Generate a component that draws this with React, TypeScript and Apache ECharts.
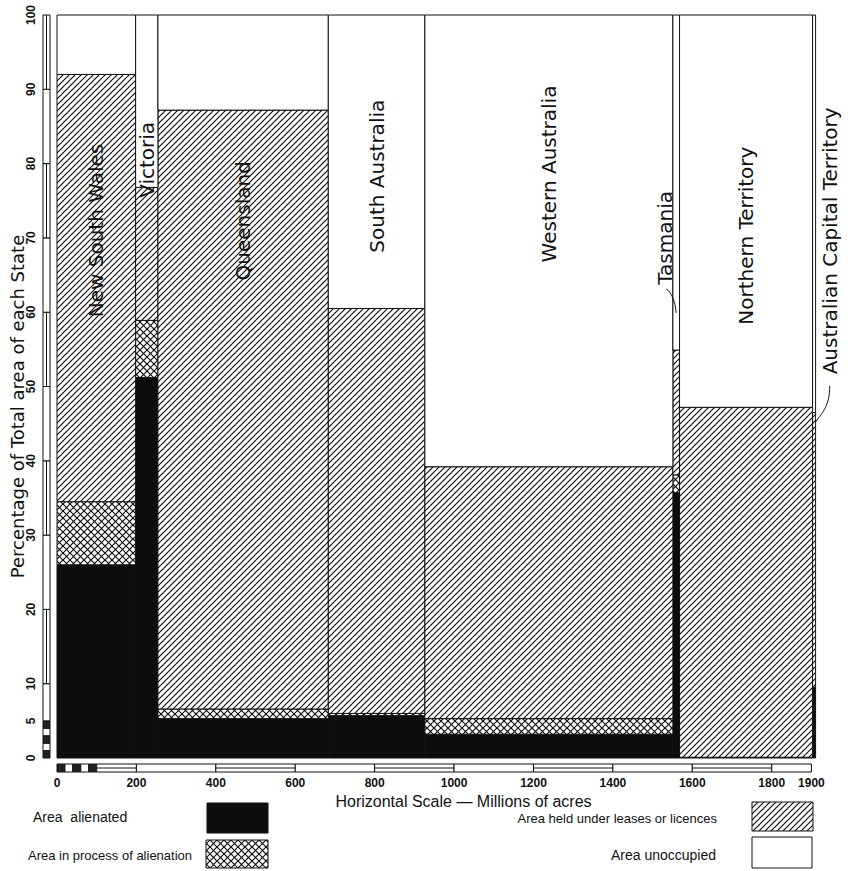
import React, { useEffect, useRef } from "react";
import * as echarts from "echarts";

// ---- data ----
const states = [
  "New South Wales",
  "Victoria",
  "Queensland",
  "South Australia",
  "Western Australia",
  "Tasmania",
  "Northern Territory",
  "Australian Capital Territory",
];
// total area of each State, millions of acres (column widths)
const areas = [198.0, 56.2, 429.1, 243.2, 624.6, 16.8, 335.1, 0.6];
// percentage of each State's total area
const alienated = [26.0, 51.2, 5.3, 5.7, 3.2, 35.7, 0.1, 9.5];
const inProcess = [8.5, 7.7, 1.3, 0.3, 2.1, 2.4, 0.0, 0.0];
const leases = [57.5, 17.9, 80.6, 54.5, 33.9, 16.8, 47.1, 37.0];
const unoccupied = [8.0, 23.2, 12.8, 39.5, 60.8, 45.1, 52.8, 53.5];

const categoryNames = [
  "Area  alienated",
  "Area in process of alienation",
  "Area held under leases or licences",
  "Area unoccupied",
];

const xTicks = [0, 200, 400, 600, 800, 1000, 1200, 1400, 1600, 1800, 1900];
const yTicks = [0, 5, 10, 20, 30, 40, 50, 60, 70, 80, 90, 100];
const xRulerMarks = [0, 20, 40, 60, 80, 100, 200, 400, 600, 800, 1000, 1200, 1400, 1600, 1800, 1900];
const yRulerMarks = [0, 1, 2, 3, 4, 5, 10, 20, 30, 40, 50, 60, 70, 80, 90, 100];

// ---- layout (label placement, not data) ----
const LABEL_Y = [71.0, 80.5, 72.3, 78.3, 78.6, 70.0, 70.3, 69.6];
const LABEL_DX = [0, 0, 0, 0, 0, -11, 0, 17];
const INK = "#111111";

function makeHatch(size: number, cross: boolean) {
  const c = document.createElement("canvas");
  c.width = size;
  c.height = size;
  const ctx = c.getContext("2d")!;
  ctx.fillStyle = "#ffffff";
  ctx.fillRect(0, 0, size, size);
  ctx.strokeStyle = INK;
  ctx.lineWidth = 1.2;
  const line = (x1: number, y1: number, x2: number, y2: number) => {
    ctx.beginPath();
    ctx.moveTo(x1, y1);
    ctx.lineTo(x2, y2);
    ctx.stroke();
  };
  line(-1, size + 1, size + 1, -1);
  line(-1, 1, 1, -1);
  line(size - 1, size + 1, size + 1, size - 1);
  if (cross) {
    line(-1, -1, size + 1, size + 1);
    line(-1, size - 1, 1, size + 1);
    line(size - 1, -1, size + 1, 1);
  }
  return {
    type: "pattern",
    image: c.toDataURL(),
    repeat: "repeat",
    imageWidth: size,
    imageHeight: size,
  } as any;
}

export default function App() {
  const ref = useRef<HTMLDivElement>(null);

  useEffect(() => {
    document.body.style.margin = "0";
    if (!ref.current) return;
    const chart = echarts.init(ref.current, null, { renderer: "svg" });

    const hatch = makeHatch(6, false);
    const cross = makeHatch(7, true);
    const fills = ["#0d0d0d", cross, hatch, "#ffffff"];
    const layers = [alienated, inProcess, leases, unoccupied];

    const starts: number[] = [];
    let acc = 0;
    areas.forEach((a) => {
      starts.push(acc);
      acc += a;
    });

    const segSeries = layers.map((layer, k) => {
      const data = states.map((_, i) => {
        let bottom = 0;
        for (let j = 0; j < k; j++) bottom += layers[j][i];
        return [starts[i], starts[i] + areas[i], bottom, bottom + layer[i], i];
      });
      return {
        type: "custom",
        name: categoryNames[k],
        clip: false,
        silent: true,
        encode: { x: [0, 1], y: [2, 3] },
        data,
        renderItem: (params: any, api: any) => {
          const x0 = api.value(0);
          const x1 = api.value(1);
          const y0 = api.value(2);
          const y1 = api.value(3);
          if (y1 - y0 <= 0) return;
          const a = api.coord([x0, y0]);
          const b = api.coord([x1, y1]);
          const w = Math.max(b[0] - a[0], 3);
          return {
            type: "rect",
            shape: { x: a[0], y: b[1], width: w, height: a[1] - b[1] },
            style: { fill: fills[k], stroke: INK, lineWidth: 1 },
          };
        },
      };
    });

    const labelSeries = {
      type: "custom",
      name: "labels",
      clip: false,
      silent: true,
      encode: { x: 0, y: 1 },
      data: states.map((s, i) => [starts[i] + areas[i] / 2, LABEL_Y[i], i]),
      renderItem: (params: any, api: any) => {
        const i = api.value(2);
        const p = api.coord([api.value(0), api.value(1)]);
        const x = p[0] + LABEL_DX[i];
        const y = p[1];
        const children: any[] = [
          {
            type: "text",
            x,
            y,
            rotation: Math.PI / 2,
            style: {
              text: states[i],
              fontSize: 20,
              fontFamily: "DejaVu Sans",
              fill: INK,
              align: "center",
              verticalAlign: "middle",
            },
          },
        ];
        if (i === 5) {
          const yb = y + 51;
          children.push({
            type: "bezierCurve",
            shape: { x1: x + 1, y1: yb, cpx1: x + 6, cpy1: yb + 3, cpx2: x + 10, cpy2: yb + 12, x2: x + 11, y2: yb + 24 },
            style: { stroke: INK, lineWidth: 1, fill: "none" },
          });
        }
        if (i === 7) {
          const yb = y + 145;
          children.push({
            type: "bezierCurve",
            shape: { x1: x, y1: yb, cpx1: x, cpy1: yb + 20, cpx2: x - 7, cpy2: yb + 26, x2: x - 14, y2: yb + 36 },
            style: { stroke: INK, lineWidth: 1, fill: "none" },
          });
        }
        return { type: "group", children };
      },
    };

    const xRuler = {
      type: "custom",
      name: "xRuler",
      clip: false,
      silent: true,
      encode: { x: [0, 1], y: 2 },
      data: xRulerMarks.slice(0, -1).map((m, i) => [m, xRulerMarks[i + 1], i]),
      renderItem: (params: any, api: any) => {
        const a = api.coord([api.value(0), 0]);
        const b = api.coord([api.value(1), 0]);
        const i = api.value(2);
        const top = a[1] + 6;
        const h = 8;
        const small = api.value(1) - api.value(0) <= 20;
        const children: any[] = [
          {
            type: "rect",
            shape: { x: a[0], y: top, width: b[0] - a[0], height: h },
            style: { fill: small && i % 2 === 0 ? "#222" : "#fff", stroke: INK, lineWidth: 1 },
          },
        ];
        if (!small && i % 2 === 1) {
          children.push({
            type: "line",
            shape: { x1: a[0], y1: top + h / 2, x2: b[0], y2: top + h / 2 },
            style: { stroke: INK, lineWidth: 1 },
          });
        }
        return { type: "group", children };
      },
    };

    const yRuler = {
      type: "custom",
      name: "yRuler",
      clip: false,
      silent: true,
      encode: { x: 2, y: [0, 1] },
      data: yRulerMarks.slice(0, -1).map((m, i) => [m, yRulerMarks[i + 1], i]),
      renderItem: (params: any, api: any) => {
        const a = api.coord([0, api.value(0)]);
        const b = api.coord([0, api.value(1)]);
        const i = api.value(2);
        const left = a[0] - 14;
        const w = 7;
        const small = api.value(1) - api.value(0) <= 1;
        const children: any[] = [
          {
            type: "rect",
            shape: { x: left, y: b[1], width: w, height: a[1] - b[1] },
            style: { fill: small && i % 2 === 0 ? "#222" : "#fff", stroke: INK, lineWidth: 1 },
          },
        ];
        if (!small && i % 2 === 0) {
          children.push({
            type: "line",
            shape: { x1: left + w / 2, y1: a[1], x2: left + w / 2, y2: b[1] },
            style: { stroke: INK, lineWidth: 1 },
          });
        }
        return { type: "group", children };
      },
    };

    const legendFont = "'Liberation Sans Narrow', 'Liberation Sans', sans-serif";
    const graphic: any[] = [
      { type: "text", x: 33, y: 817, style: { text: categoryNames[0], fontSize: 14, fontFamily: "Liberation Sans", fill: INK, verticalAlign: "middle" } },
      { type: "rect", shape: { x: 207, y: 803, width: 61, height: 30 }, style: { fill: fills[0], stroke: INK, lineWidth: 1 } },
      { type: "text", x: 28, y: 855, style: { text: categoryNames[1], fontSize: 13, fontFamily: legendFont, fill: INK, verticalAlign: "middle" } },
      { type: "rect", shape: { x: 206, y: 840, width: 62, height: 28 }, style: { fill: fills[1], stroke: INK, lineWidth: 1 } },
      { type: "text", x: 717, y: 818, style: { text: categoryNames[2], fontSize: 13, fontFamily: legendFont, fill: INK, align: "right", verticalAlign: "middle" } },
      { type: "rect", shape: { x: 752, y: 802, width: 61, height: 29 }, style: { fill: fills[2], stroke: INK, lineWidth: 1 } },
      { type: "text", x: 716, y: 855, style: { text: categoryNames[3], fontSize: 14, fontFamily: "Liberation Sans", fill: INK, align: "right", verticalAlign: "middle" } },
      { type: "rect", shape: { x: 752, y: 837, width: 60, height: 31 }, style: { fill: fills[3], stroke: INK, lineWidth: 1 } },
    ];

    chart.setOption({
      animation: false,
      backgroundColor: "#ffffff",
      grid: { left: 57, right: 35, top: 15, bottom: 113, containLabel: false, outerBoundsMode: "none" },
      xAxis: {
        type: "value",
        min: 0,
        max: 1904,
        axisLine: { show: false },
        axisTick: { show: false },
        splitLine: { show: false },
        axisLabel: {
          customValues: xTicks,
          formatter: (v: number) => String(v),
          margin: 19,
          fontSize: 12,
          fontWeight: "bold",
          fontFamily: "Liberation Sans",
          color: INK,
        },
        name: "Horizontal Scale — Millions of acres",
        nameLocation: "middle",
        nameGap: 35,
        nameMoveOverlap: false,
        nameTextStyle: { fontSize: 16, fontFamily: "Liberation Sans", color: INK, padding: [0, 0, 0, 57] },
      },
      yAxis: {
        type: "value",
        min: 0,
        max: 100,
        axisLine: { show: false },
        axisTick: { show: false },
        splitLine: { show: false },
        axisLabel: {
          customValues: yTicks,
          formatter: (v: number) => String(v),
          rotate: 90,
          margin: 20,
          fontSize: 12,
          fontWeight: "bold",
          fontFamily: "Liberation Sans",
          color: INK,
        },
        name: "Percentage of Total area of each State",
        nameLocation: "middle",
        nameGap: 31,
        nameMoveOverlap: false,
        nameTextStyle: { fontSize: 18, fontFamily: "DejaVu Sans", color: INK, padding: [0, 40, 0, 0] },
      },
      series: [...segSeries, labelSeries, xRuler, yRuler],
      graphic,
    });

    return () => chart.dispose();
  }, []);

  return <div ref={ref} style={{ width: 848, height: 871 }} />;
}
